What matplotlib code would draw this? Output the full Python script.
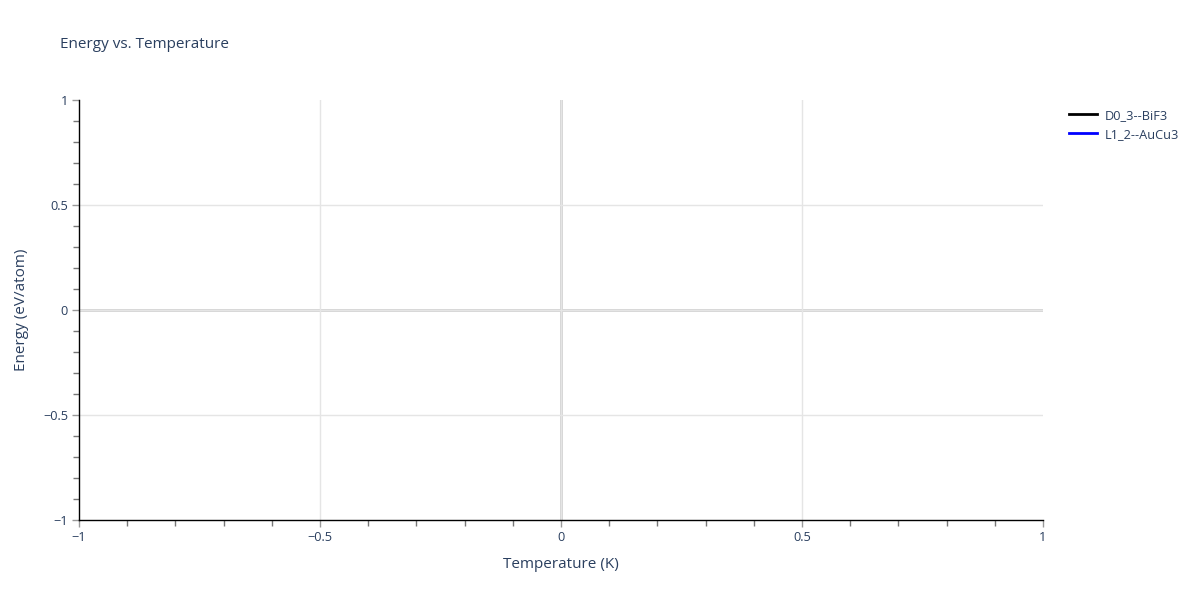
import matplotlib
matplotlib.use('Agg')
import matplotlib.pyplot as plt
from matplotlib.ticker import MultipleLocator, FuncFormatter

plt.rcParams['font.family'] = ['Open Sans', 'DejaVu Sans']

# series names and (empty) data, as in the reference
series_names = ['D0_3--BiF3', 'L1_2--AuCu3']
series_colors = ['black', 'blue']
temperature = [[], []]
energy = [[], []]

text_color = '#2a3f5f'

fig = plt.figure(figsize=(12, 6), dpi=100)
ax = fig.add_axes([79 / 1200, 80 / 600, 964 / 1200, 420 / 600])

for name, color, t, e in zip(series_names, series_colors, temperature, energy):
    ax.plot(t, e, color=color, linewidth=2, label=name)

ax.set_xlim(-1, 1)
ax.set_ylim(-1, 1)

ax.xaxis.set_major_locator(MultipleLocator(0.5))
ax.yaxis.set_major_locator(MultipleLocator(0.5))
ax.xaxis.set_minor_locator(MultipleLocator(0.1))
ax.yaxis.set_minor_locator(MultipleLocator(0.1))

def fmt(v, pos):
    if abs(v) < 1e-9:
        return '0'
    s = ('%g' % v)
    return s.replace('-', '\u2212')

ax.xaxis.set_major_formatter(FuncFormatter(fmt))
ax.yaxis.set_major_formatter(FuncFormatter(fmt))

ax.grid(True, which='major', color='#e5e5e5', linewidth=1)
ax.axhline(0, color='#d0d0d0', linewidth=2, zorder=1)
ax.axvline(0, color='#d0d0d0', linewidth=2, zorder=1)

# no gridlines on the frame edges
fig.canvas.draw()
for axis in (ax.xaxis, ax.yaxis):
    for tick in axis.get_major_ticks():
        if abs(abs(tick.get_loc()) - 1) < 1e-9:
            tick.gridline.set_visible(False)

for side in ['top', 'right']:
    ax.spines[side].set_visible(False)
for side in ['left', 'bottom']:
    ax.spines[side].set_color('black')
    ax.spines[side].set_linewidth(1)

ax.tick_params(which='major', direction='out', length=5, width=1, color='#999999',
               labelsize=9.2, labelcolor=text_color, pad=3)
ax.tick_params(which='minor', direction='out', length=4, width=1, color='#777777')

ax.set_xlabel('Temperature (K)', fontsize=11, color=text_color, labelpad=9)
ax.set_ylabel('Energy (eV/atom)', fontsize=11, color=text_color, labelpad=10)

fig.text(60 / 1200, 1 - 45 / 600, 'Energy vs. Temperature', fontsize=11,
         color=text_color, va='center', ha='left')

leg = ax.legend(loc='upper left', bbox_to_anchor=(1.018, 1.0), frameon=False,
                fontsize=9.2, handlelength=2.2, handletextpad=0.55,
                labelcolor=text_color, borderaxespad=0.3, labelspacing=0.45)

fig.savefig('out.png', dpi=100)
